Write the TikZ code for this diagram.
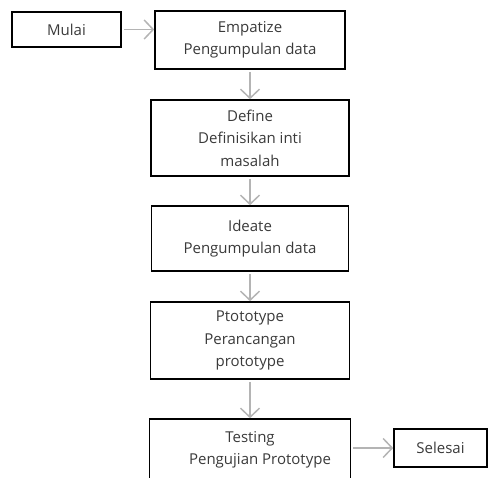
\documentclass[tikz,border=0pt]{standalone}
\usepackage{fontspec}
\setmainfont{Open Sans}
\usepackage{xcolor}
\usetikzlibrary{arrows.meta}
\definecolor{txtgray}{HTML}{3A3A3A}
\definecolor{arrgray}{HTML}{B4B4B4}
\tikzset{stepbox/.style={rectangle, draw, line width=1.6pt, align=center, text=txtgray, inner sep=0pt, font=\fontsize{15}{22.5}\selectfont}}
\tikzset{flow/.style={draw=arrgray, line width=1.5pt, shorten <=2pt, -{Straight Barb[length=9pt,width=19pt,line width=1.5pt]}}}

\begin{document}
\begin{tikzpicture}[x=1pt,y=-1pt]
    \useasboundingbox (0,0) rectangle (489,477);
    \clip (0,0) rectangle (489,477);
    \foreach \x/\y/\w/\h/\lab/\tx in {
      66.5/29.5/109/35/mulai/Mulai,
      250/40/190/58/empatize/{Empatize\\Pengumpulan data},
      250/138/198/76/define/{Define\\Definisikan inti\\masalah},
      250/238.5/197/65/ideate/{Ideate\\Pengumpulan data},
      250/340.5/199/77/proto/{Ptototype\\Perancangan\\prototype},
      250/450/201/62/testing/{Testing\\\hspace*{20pt}Pengujian Prototype},
      440.5/448/93/38/selesai/Selesai%
    } {
      \node[stepbox, minimum width=\w, minimum height=\h] (\lab) at (\x, \y) {\tx};
    }
    \draw[flow] (mulai.east) -- (mulai.east -| empatize.west);
    \draw[flow] (empatize.south) -- (define.north);
    \draw[flow] (define.south) -- (ideate.north);
    \draw[flow] (ideate.south) -- (proto.north);
    \draw[flow] (proto.south) -- (testing.north);
    \draw[flow] (testing.east |- selesai.west) -- (selesai.west);
  \end{tikzpicture}
\end{document}
